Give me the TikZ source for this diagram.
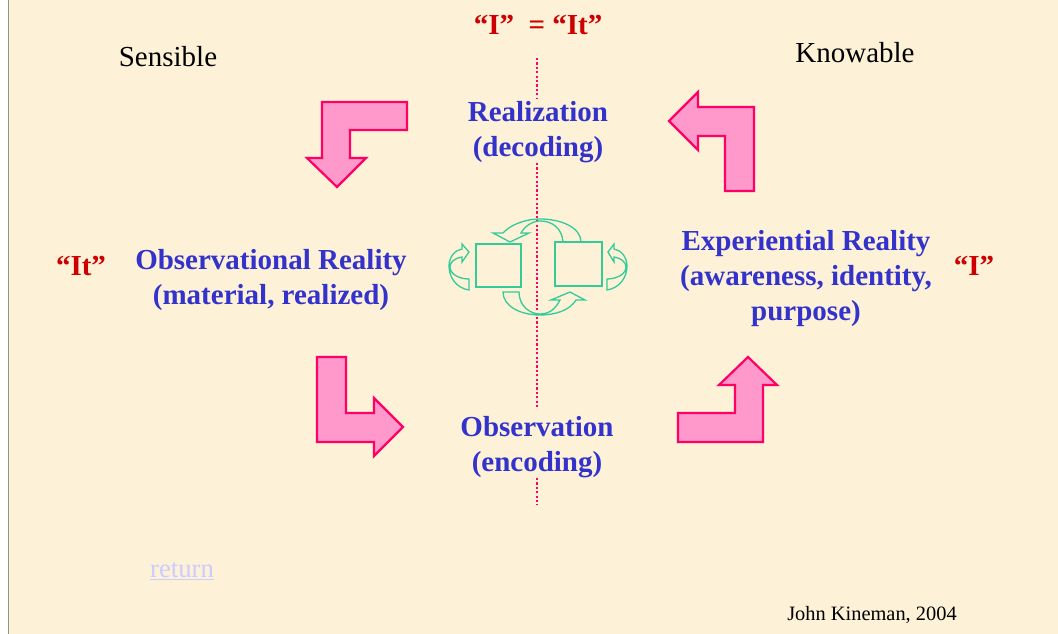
\documentclass[tikz,border=0pt]{standalone}
\usepackage{fontspec}
\setmainfont{Liberation Serif}
\usepackage{tikz}
\usetikzlibrary{positioning}
\definecolor{pagecream}{HTML}{FDF1D7}
\definecolor{pageedge}{HTML}{8F8F8F}
\definecolor{titleblue}{HTML}{3333CC}
\definecolor{quotered}{HTML}{CC0000}
\definecolor{arrowpink}{HTML}{FF99CC}
\definecolor{arrowedge}{HTML}{FF0066}
\definecolor{cyclegreen}{HTML}{33CC99}
\definecolor{linkblue}{HTML}{CCCCFF}

\begin{document}
\begin{tikzpicture}[
  x=1pt, y=-1pt,
  titletext/.style={font=\fontsize{29}{35}\selectfont\bfseries, text=titleblue, align=center, inner sep=0pt},
  quotetext/.style={font=\fontsize{29}{35}\selectfont\bfseries, text=quotered, inner sep=0pt},
  plaintext/.style={font=\fontsize{29}{35}\selectfont, text=black, inner sep=0pt},
  bendarrow/.style={draw=arrowedge, line width=2.2pt, fill=arrowpink, line join=miter},
  loopline/.style={draw=cyclegreen, line width=1.3pt},
  sq/.style={draw=cyclegreen, line width=1.5pt, inner sep=0pt},
  axisline/.style={draw=arrowedge, line width=2.2pt, dash pattern=on 2.2pt off 2.2pt},
]
  \useasboundingbox (0,0) rectangle (1058,634);
  \fill[pagecream] (8,0) rectangle (1058,634);
  \draw[pageedge, line width=1.5pt] (8.5,0) -- (8.5,634);

  % labels
  \node[quotetext] (equal) at (538,25) {“I”\ \ = “It”};
  \node[plaintext] (sensible) at (168,57) {Sensible};
  \node[plaintext] (knowable) at (855,53) {Knowable};
  \node[titletext] (real) at (538,132) {Realization\\(decoding)};
  \node[titletext] (obs) at (537,447) {Observation\\(encoding)};
  \node[titletext] (left) at (271,280) {Observational Reality\\(material, realized)};
  \node[titletext] (right) at (806,279) {Experiential Reality\\(awareness, identity,\\purpose)};
  \node[quotetext] (it) at (81,266) {“It”};
  \node[quotetext] (i) at (974,266) {“I”};
  \node[font=\fontsize{26.7}{30}\selectfont, text=linkblue, inner sep=0pt] (back) at (182,571) {\underline{return}};
  \node[font=\fontsize{20.4}{24}\selectfont, text=black, inner sep=0pt] (credit) at (872,615) {John Kineman, 2004};

  % axis
  \coordinate (axistop) at (537,58);
  \coordinate (axisbot) at (537,505);
  \draw[axisline, shorten >=3pt] (axistop) -- (real.north -| axistop);
  \draw[axisline, shorten >=9pt] (real.south -| axistop) -- (obs.north -| axistop);
  \draw[axisline] (obs.south -| axistop) -- (axisbot);

  % big arrows
  \draw[bendarrow] (322,102) -- (407,102) -- (407,130) -- (350,130) -- (350,158) -- (366,158) -- (337,187) -- (307,158) -- (322,158) -- cycle;
  \draw[bendarrow] (669,121) -- (698,92) -- (698,107) -- (754,107) -- (754,191) -- (725,191) -- (725,136) -- (698,136) -- (698,150) -- cycle;
  \draw[bendarrow] (317,357) -- (346,357) -- (346,413) -- (374,413) -- (374,398) -- (403,427) -- (374,456) -- (374,442) -- (317,442) -- cycle;
  \draw[bendarrow] (678,413) -- (735,413) -- (735,385) -- (719,385) -- (748,357) -- (777,385) -- (763,385) -- (763,442) -- (678,442) -- cycle;

  % cycle
  \node[sq, minimum width=45pt, minimum height=43pt] (sqleft) at (498.5,265.5) {};
  \node[sq, minimum width=47pt, minimum height=44pt] (sqright) at (578.5,264) {};
  \draw[loopline] (563,242) .. controls (562,228) and (552,221) .. (540,221) .. controls (532,221) and (524,227) .. (521,233) -- (529,233) -- (510,242) -- (493,233) -- (503,233) .. controls (510,225) and (525,219) .. (540,219) .. controls (562,219) and (581,228) .. (581,242) -- cycle;
  \draw[loopline] (503,292) .. controls (503,306) and (520,315) .. (540,315) .. controls (556,315) and (570,310) .. (576,300) -- (585,300) -- (570,292) -- (551,300) -- (560,300) .. controls (556,308) and (550,314) .. (540,314) .. controls (530,314) and (519,306) .. (519,292) -- cycle;
  \draw[loopline] (469,290) .. controls (456,288) and (449,277) .. (449,266) .. controls (449,257) and (455,250) .. (462,249) -- (462,244) -- (469,252) -- (462,262) -- (462,257) .. controls (455,258) and (450,262) .. (450,267) .. controls (450,274) and (459,279) .. (469,279) -- cycle;
  \draw[loopline] (607,290) .. controls (620,288) and (627,277) .. (627,266) .. controls (627,257) and (621,250) .. (614,249) -- (614,244) -- (608,252) -- (614,262) -- (614,257) .. controls (621,258) and (626,262) .. (626,267) .. controls (626,274) and (617,279) .. (607,279) -- cycle;
\end{tikzpicture}
\end{document}
